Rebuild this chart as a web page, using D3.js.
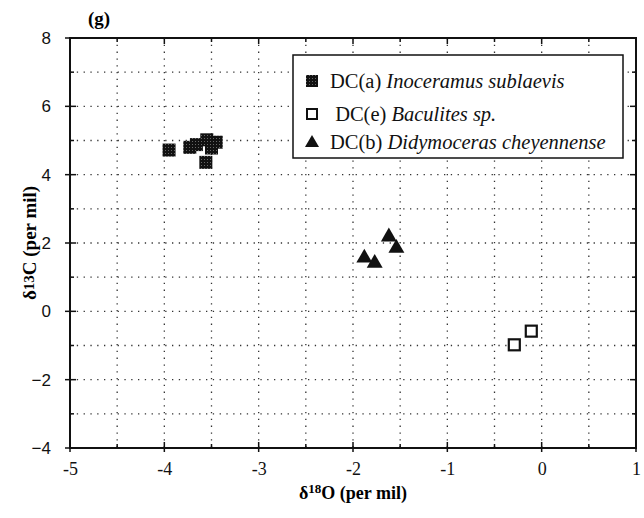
<!DOCTYPE html>
<html>
<head>
<meta charset="utf-8">
<script src="https://cdn.jsdelivr.net/npm/d3@7"></script>
<style>
  body { margin: 0; background: #fff; }
  svg { display: block; }
</style>
</head>
<body>
<svg id="chart" width="644" height="518"></svg>
<script>
const xTicks = [-5, -4, -3, -2, -1, 0, 1]
const yTicks = [-4, -2, 0, 2, 4, 6, 8]

// [d18O, d13C]
const inoceramus = [
  [-3.95, 4.72], [-3.73, 4.8], [-3.66, 4.88], [-3.55, 5.02],
  [-3.45, 4.95], [-3.5, 4.78], [-3.56, 4.36],
]
const baculites = [[-0.29, -0.98], [-0.11, -0.58]]
const didymoceras = [[-1.88, 1.59], [-1.77, 1.44], [-1.62, 2.21], [-1.54, 1.88]]

const legendCodes = ['DC(a) ', ' DC(e) ', 'DC(b) ']
const legendNames = ['Inoceramus sublaevis', 'Baculites sp.', 'Didymoceras cheyennense']

const width = 644
const height = 518
const margin = { top: 38, right: 8, bottom: 70, left: 70 }
const serif = '"Liberation Serif", "Times New Roman", serif'
const sans = '"Liberation Sans", Arial, sans-serif'

const svg = d3.select('#chart')

const x = d3.scaleLinear().domain([-5, 1]).range([margin.left, width - margin.right])
const y = d3.scaleLinear().domain([-4, 8]).range([height - margin.bottom, margin.top])

// pattern for the Inoceramus squares
const pat = svg.append('defs').append('pattern')
  .attr('id', 'speckle')
  .attr('patternUnits', 'userSpaceOnUse')
  .attr('width', 3).attr('height', 3)
pat.append('rect').attr('width', 3).attr('height', 3).attr('fill', '#111')
pat.append('rect').attr('width', 1).attr('height', 1).attr('fill', '#666')

// grid
const grid = svg.append('g').attr('stroke', '#333').attr('stroke-width', 1.3)
  .attr('stroke-dasharray', '1.3,5.5')
grid.selectAll('.vg')
  .data(d3.range(-4.5, 1, 0.5))
  .join('line')
  .attr('x1', (d) => x(d)).attr('x2', (d) => x(d))
  .attr('y1', y(8)).attr('y2', y(-4))
grid.selectAll('.hg')
  .data(d3.range(-3, 8, 1))
  .join('line')
  .attr('x1', x(-5)).attr('x2', x(1))
  .attr('y1', (d) => y(d)).attr('y2', (d) => y(d))

// frame
svg.append('rect')
  .attr('x', x(-5)).attr('y', y(8))
  .attr('width', x(1) - x(-5)).attr('height', y(-4) - y(8))
  .attr('fill', 'none').attr('stroke', '#111').attr('stroke-width', 2)

// small tick marks on all four sides
const xMinor = d3.range(-5, 1.01, 0.5)
const yMinor = d3.range(-4, 8.01, 1)
const ticks = svg.append('g').attr('stroke', '#111').attr('stroke-width', 1.5)
ticks.selectAll('.tb')
  .data(xMinor)
  .join('line')
  .attr('x1', (d) => x(d)).attr('x2', (d) => x(d))
  .attr('y1', (d) => y(-4) + (Number.isInteger(d) ? 4 : 0))
  .attr('y2', (d) => y(-4) - (Number.isInteger(d) ? 6 : 4))
ticks.selectAll('.tt')
  .data(xMinor)
  .join('line')
  .attr('x1', (d) => x(d)).attr('x2', (d) => x(d))
  .attr('y1', y(8))
  .attr('y2', (d) => y(8) + (Number.isInteger(d) ? 6 : 4))
ticks.selectAll('.tl')
  .data(yMinor)
  .join('line')
  .attr('y1', (d) => y(d)).attr('y2', (d) => y(d))
  .attr('x1', (d) => x(-5) - (d % 2 === 0 ? 5 : 0))
  .attr('x2', (d) => x(-5) + (d % 2 === 0 ? 6 : 4))
ticks.selectAll('.tr')
  .data(yMinor)
  .join('line')
  .attr('y1', (d) => y(d)).attr('y2', (d) => y(d))
  .attr('x1', x(1))
  .attr('x2', (d) => x(1) - (d % 2 === 0 ? 6 : 4))

// tick labels via d3 axes
const xAxis = svg.append('g')
  .attr('transform', `translate(0,${y(-4)})`)
  .call(d3.axisBottom(x).tickValues(xTicks).tickSize(0).tickPadding(14).tickFormat((d) => String(d)))
xAxis.select('.domain').remove()
xAxis.attr('font-family', null).attr('font-size', null)
xAxis.selectAll('text')
  .style('font-family', serif).style('font-size', '18px').attr('fill', '#111')

const yAxis = svg.append('g')
  .attr('transform', `translate(${x(-5)},0)`)
  .call(d3.axisLeft(y).tickValues(yTicks).tickSize(0).tickPadding(19).tickFormat(d3.format('d')))
yAxis.select('.domain').remove()
yAxis.attr('font-family', null).attr('font-size', null)
yAxis.selectAll('text')
  .style('font-family', sans).style('font-size', '17px').attr('fill', '#111')

// axis titles
const xt = svg.append('text')
  .attr('x', (x(-5) + x(1)) / 2).attr('y', 499)
  .attr('text-anchor', 'middle')
  .style('font-family', serif).style('font-weight', 'bold').style('font-size', '18px')
xt.append('tspan').text('δ')
xt.append('tspan').text('18').style('font-size', '13px').attr('dy', -6)
xt.append('tspan').text('O (per mil)').attr('dy', 6)

const yt = svg.append('text')
  .attr('transform', `translate(36,${(y(-4) + y(8)) / 2}) rotate(-90)`)
  .attr('text-anchor', 'middle')
  .style('font-family', serif).style('font-weight', 'bold').style('font-size', '19px')
yt.append('tspan').text('δ')
yt.append('tspan').text('13').style('font-size', '15px').attr('dy', -2)
yt.append('tspan').text('C (per mil)').attr('dy', 2)

svg.append('text')
  .attr('x', 88).attr('y', 25)
  .style('font-family', serif).style('font-weight', 'bold').style('font-size', '19px')
  .text('(g)')

// points
const sq = 13
svg.append('g').selectAll('rect')
  .data(inoceramus)
  .join('rect')
  .attr('x', (d) => x(d[0]) - sq / 2).attr('y', (d) => y(d[1]) - sq / 2)
  .attr('width', sq).attr('height', sq)
  .attr('fill', 'url(#speckle)')

svg.append('g').selectAll('rect')
  .data(baculites)
  .join('rect')
  .attr('x', (d) => x(d[0]) - 5.5).attr('y', (d) => y(d[1]) - 5.5)
  .attr('width', 11).attr('height', 11)
  .attr('fill', '#fff').attr('stroke', '#111').attr('stroke-width', 2.2)

const tri = d3.symbol().type(d3.symbolTriangle).size(110)
svg.append('g').selectAll('path')
  .data(didymoceras)
  .join('path')
  .attr('transform', (d) => `translate(${x(d[0])},${y(d[1]) + 1})`)
  .attr('d', tri)
  .attr('fill', '#111')

// legend
const lg = svg.append('g')
lg.append('rect')
  .attr('x', 293).attr('y', 55).attr('width', 330).attr('height', 103)
  .attr('fill', '#fff').attr('stroke', '#111').attr('stroke-width', 1.5)

const rowY = [81, 114, 142]
lg.append('rect')
  .attr('x', 306).attr('y', rowY[0] - 6).attr('width', 12).attr('height', 12)
  .attr('fill', 'url(#speckle)')
lg.append('rect')
  .attr('x', 307).attr('y', rowY[1] - 5).attr('width', 10).attr('height', 10)
  .attr('fill', '#fff').attr('stroke', '#111').attr('stroke-width', 2)
lg.append('path')
  .attr('transform', `translate(312,${rowY[2] + 1})`)
  .attr('d', d3.symbol().type(d3.symbolTriangle).size(85))
  .attr('fill', '#111')

lg.selectAll('.lt')
  .data(legendNames)
  .join('text')
  .attr('x', 330).attr('y', (d, i) => rowY[i] + 7)
  .style('font-family', serif).style('font-size', '20.5px').attr('fill', '#111')
  .each(function (d, i) {
    const t = d3.select(this)
    t.append('tspan').text(legendCodes[i]).attr('xml:space', 'preserve')
    t.append('tspan').text(d).style('font-style', 'italic')
  })
</script>
</body>
</html>
